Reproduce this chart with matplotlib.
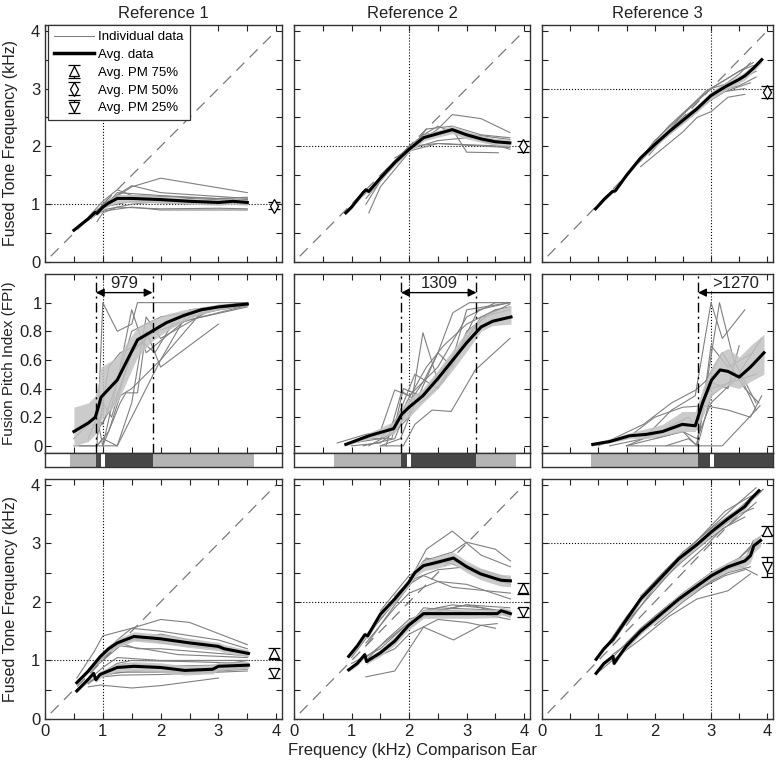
#Recreates the 3x3 fused tone / fusion pitch index figure (three references, three rows)
#%% IMPORTING REQUIRED LIBRARIES
import numpy as np
import matplotlib.pyplot as plt

plt.rcParams['font.family'] = ['Liberation Sans', 'DejaVu Sans']

#%% DATA
refFreqs = [1.0, 2.0, 3.0] #Reference ear frequency (kHz) per column
colTitles = ["Reference 1", "Reference 2", "Reference 3"]

#Row 1: 50% pitch match, column 1
r1c1AvgX = [0.5, 0.75, 0.87, 0.9, 1.0, 1.1, 1.25, 1.5, 2.0, 2.5, 3.0, 3.25, 3.5]
r1c1AvgY = [0.55, 0.75, 0.86, 0.84, 0.95, 1.02, 1.1, 1.1, 1.08, 1.05, 1.03, 1.05, 1.03]
r1c1Band = [0.02, 0.03, 0.04, 0.04, 0.05, 0.06, 0.07, 0.07, 0.06, 0.05, 0.05, 0.05, 0.05]
r1c1Ind = [
    ([0.75, 1.0, 1.5, 2.0, 3.5], [0.72, 0.98, 1.3, 1.45, 1.2]),
    ([0.85, 1.0, 1.5, 2.0, 3.5], [0.8, 1.0, 1.32, 1.2, 1.1]),
    ([0.8, 1.0, 1.25, 2.0, 3.5], [0.75, 0.92, 1.2, 1.15, 1.07]),
    ([0.85, 1.0, 1.5, 2.5, 3.5], [0.85, 0.9, 1.0, 1.1, 1.05]),
    ([0.9, 1.0, 1.25, 2.0, 3.0, 3.5], [0.7, 0.85, 0.95, 0.92, 0.93, 0.92]),
    ([0.85, 1.0, 1.5, 2.0, 3.5], [0.8, 0.88, 0.95, 0.9, 0.9]),
    ([0.5, 0.75, 1.0, 1.25, 2.0, 3.5], [0.55, 0.75, 0.98, 1.1, 1.05, 1.0]),
    ([0.75, 1.0, 1.25, 1.5, 3.5], [0.78, 1.05, 1.25, 1.15, 1.08]),
    ([1.0, 1.5, 2.5, 3.0, 3.5], [0.95, 1.05, 1.0, 1.1, 1.12]),
]

#Row 1, column 2
r1c2AvgX = [0.9, 1.0, 1.2, 1.25, 1.3, 1.5, 1.75, 2.0, 2.25, 2.5, 2.75, 3.0, 3.25, 3.5, 3.75]
r1c2AvgY = [0.85, 0.95, 1.2, 1.25, 1.22, 1.45, 1.72, 1.95, 2.15, 2.22, 2.29, 2.2, 2.13, 2.08, 2.06]
r1c2Band = [0.02, 0.03, 0.04, 0.04, 0.04, 0.04, 0.05, 0.05, 0.06, 0.06, 0.07, 0.07, 0.06, 0.06, 0.06]
r1c2Ind = [
    ([1.2, 1.5, 2.0, 2.5, 2.75, 3.25, 3.75], [1.15, 1.45, 1.95, 2.3, 2.55, 2.48, 2.24]),
    ([1.25, 1.5, 2.0, 2.25, 2.75, 3.0, 3.55], [1.0, 1.4, 1.95, 2.2, 2.3, 1.9, 1.89]),
    ([1.3, 1.5, 2.0, 2.25, 2.5, 2.75, 3.75], [0.85, 1.3, 1.9, 2.2, 2.35, 2.25, 2.12]),
    ([1.0, 1.3, 1.75, 2.0, 2.5, 3.75], [0.95, 1.25, 1.75, 2.0, 2.05, 2.0]),
    ([1.5, 2.0, 2.3, 2.75, 3.25, 3.75], [1.5, 1.9, 2.3, 2.35, 2.2, 2.15]),
    ([1.25, 1.75, 2.0, 2.5, 3.0, 3.75], [1.1, 1.7, 1.92, 2.05, 2.02, 1.98]),
    ([1.75, 2.0, 2.5, 3.0, 3.5, 3.75], [1.8, 1.95, 2.1, 2.15, 2.1, 2.05]),
    ([1.6, 2.0, 2.25, 2.75, 3.25, 3.75], [1.6, 2.0, 2.2, 2.25, 2.1, 1.95]),
]

#Row 1, column 3
r1c3AvgX = [0.95, 1.1, 1.25, 1.3, 1.5, 1.75, 2.0, 2.25, 2.5, 2.75, 3.0, 3.25, 3.5, 3.6, 3.75, 3.9]
r1c3AvgY = [0.92, 1.08, 1.22, 1.23, 1.5, 1.8, 2.03, 2.25, 2.45, 2.65, 2.88, 3.03, 3.16, 3.22, 3.35, 3.5]
r1c3Band = [0.02, 0.02, 0.03, 0.03, 0.03, 0.04, 0.05, 0.05, 0.06, 0.06, 0.07, 0.07, 0.07, 0.07, 0.06, 0.05]
r1c3Ind = [
    ([1.75, 2.0, 2.5, 2.75, 3.0, 3.3, 3.6], [1.65, 1.85, 2.25, 2.5, 2.6, 2.85, 2.9]),
    ([1.7, 2.0, 2.5, 3.0, 3.25, 3.7], [1.7, 2.0, 2.45, 2.8, 2.95, 3.1]),
    ([1.75, 2.25, 2.75, 3.0, 3.5, 3.75], [1.8, 2.35, 2.8, 3.0, 3.3, 3.4]),
    ([1.8, 2.0, 2.5, 3.0, 3.5, 3.8], [1.85, 2.1, 2.55, 3.0, 3.15, 3.3]),
    ([1.5, 2.0, 2.5, 3.0, 3.25, 3.6], [1.5, 2.05, 2.5, 2.85, 2.95, 3.0]),
    ([1.75, 2.25, 2.75, 3.0, 3.5, 3.7], [1.78, 2.2, 2.6, 2.9, 3.25, 3.45]),
    ([2.0, 2.5, 2.9, 3.25, 3.75], [2.0, 2.55, 2.95, 3.15, 3.45]),
    ([1.9, 2.3, 2.75, 3.1, 3.5, 3.8], [1.85, 2.3, 2.65, 2.95, 3.05, 3.2]),
]

#Average pitch match (50%) markers, row 1
pm50X = [3.97, 3.98, 4.0]
pm50Y = [0.97, 2.0, 2.94]
pm50Err = [0.06, 0.1, 0.1]

#Row 2: fusion pitch index, column 1
r2c1AvgX = [0.5, 0.75, 0.87, 0.93, 0.97, 1.25, 1.6, 1.85, 2.1, 2.4, 2.7, 3.0, 3.25, 3.5]
r2c1AvgY = [0.1, 0.16, 0.2, 0.28, 0.34, 0.46, 0.74, 0.8, 0.86, 0.91, 0.95, 0.97, 0.98, 0.99]
r2c1Lo = [0.0, 0.03, 0.08, 0.12, 0.18, 0.3, 0.62, 0.73, 0.8, 0.87, 0.92, 0.95, 0.97, 0.98]
r2c1Hi = [0.27, 0.3, 0.35, 0.45, 0.55, 0.62, 0.83, 0.88, 0.92, 0.95, 0.97, 0.99, 0.99, 1.0]
r2c1Ind = [
    ([0.5, 0.75, 0.9, 1.0, 1.25, 1.5, 2.0, 3.5], [0.05, 0.15, 0.2, 0.0, 0.45, 0.8, 0.9, 1.0]),
    ([0.5, 0.9, 1.0, 1.25, 1.5, 1.6, 2.5, 3.5], [0.0, 0.0, 1.0, 0.8, 0.85, 1.0, 1.0, 1.0]),
    ([0.75, 0.9, 1.0, 1.25, 1.5, 1.75, 2.5, 3.5], [0.05, 0.2, 0.15, 0.45, 0.95, 0.65, 0.9, 1.0]),
    ([0.6, 0.9, 1.1, 1.3, 1.5, 2.0, 2.5, 3.5], [0.0, 0.0, 0.1, 0.35, 0.4, 0.6, 0.95, 1.0]),
    ([0.9, 1.0, 1.25, 1.5, 1.75, 2.0, 3.0, 3.5], [0.0, 0.05, 0.0, 0.3, 0.9, 0.75, 0.98, 1.0]),
    ([0.9, 1.25, 2.0, 2.7, 3.5], [0.0, 0.0, 0.6, 0.93, 0.98]),
    ([0.9, 1.2, 1.5, 1.8, 2.5, 3.5], [0.1, 0.3, 0.65, 0.78, 0.88, 0.97]),
    ([0.9, 1.0, 1.15, 1.5, 2.0, 2.5, 3.0, 3.5], [0.05, 0.3, 0.2, 0.65, 0.85, 0.92, 0.97, 1.0]),
    ([0.95, 1.1, 1.3, 1.7, 1.9, 2.2, 3.5], [0.15, 0.55, 0.65, 0.72, 0.65, 0.85, 0.98]),
    ([1.0, 1.3, 1.4, 1.6, 1.75, 2.0, 2.5, 3.0], [0.0, 0.3, 0.37, 0.37, 0.8, 0.55, 0.7, 0.85]),
]

#Row 2, column 2
r2c2AvgX = [0.9, 1.3, 1.73, 1.87, 2.0, 2.24, 2.5, 2.76, 3.0, 3.25, 3.45, 3.77]
r2c2AvgY = [0.01, 0.07, 0.12, 0.22, 0.27, 0.35, 0.47, 0.6, 0.72, 0.83, 0.87, 0.9]
r2c2Lo = [0.0, 0.05, 0.08, 0.17, 0.2, 0.3, 0.4, 0.53, 0.66, 0.8, 0.84, 0.85]
r2c2Hi = [0.02, 0.09, 0.17, 0.27, 0.33, 0.4, 0.53, 0.67, 0.8, 0.9, 0.94, 0.98]
r2c2Ind = [
    ([0.75, 1.25, 1.5, 1.75, 2.0, 2.5, 3.0, 3.5, 3.75], [0.02, 0.08, 0.1, 0.39, 0.35, 0.55, 0.9, 1.0, 1.0]),
    ([1.0, 1.5, 1.75, 2.0, 2.24, 2.5, 2.75, 3.0, 3.75], [0.0, 0.02, 0.1, 0.2, 0.79, 0.45, 0.6, 0.95, 1.0]),
    ([1.2, 1.75, 2.0, 2.25, 2.5, 2.76, 3.05, 3.75], [0.0, 0.05, 0.3, 0.45, 0.65, 0.93, 1.0, 1.0]),
    ([1.5, 1.9, 2.1, 2.4, 2.73, 3.15, 3.75], [0.0, 0.0, 0.15, 0.25, 0.24, 0.53, 0.75]),
    ([1.25, 1.7, 1.9, 2.2, 2.5, 3.0, 3.25, 3.75], [0.05, 0.05, 0.4, 0.35, 0.5, 0.75, 0.9, 0.95]),
    ([1.5, 1.85, 2.0, 2.5, 2.75, 3.0, 3.5], [0.0, 0.05, 0.2, 0.65, 0.55, 0.8, 0.95]),
    ([1.0, 1.5, 1.8, 2.1, 2.5, 2.9, 3.2, 3.75], [0.02, 0.05, 0.2, 0.5, 0.4, 0.7, 0.95, 1.0]),
    ([1.3, 1.75, 1.95, 2.3, 2.6, 3.0, 3.5, 3.75], [0.0, 0.1, 0.3, 0.55, 0.7, 0.85, 0.95, 0.97]),
    ([1.6, 1.87, 2.2, 2.6, 2.9, 3.3, 3.75], [0.0, 0.38, 0.3, 0.45, 0.7, 0.9, 0.99]),
]

#Row 2, column 3
r2c3AvgX = [0.9, 1.2, 1.55, 1.85, 2.14, 2.49, 2.72, 2.85, 3.01, 3.16, 3.3, 3.5, 3.7, 3.94]
r2c3AvgY = [0.01, 0.03, 0.07, 0.08, 0.1, 0.15, 0.14, 0.3, 0.46, 0.53, 0.52, 0.48, 0.55, 0.65]
r2c3Lo = [0.0, 0.02, 0.05, 0.05, 0.07, 0.1, 0.1, 0.2, 0.35, 0.4, 0.42, 0.4, 0.45, 0.5]
r2c3Hi = [0.02, 0.05, 0.09, 0.12, 0.15, 0.24, 0.24, 0.4, 0.55, 0.65, 0.68, 0.62, 0.7, 0.78]
r2c3Ind = [
    ([1.2, 1.8, 2.3, 2.72, 3.0, 3.2, 3.6], [0.0, 0.05, 0.25, 0.35, 1.0, 0.75, 0.95]),
    ([1.5, 2.0, 2.5, 2.75, 3.15, 3.4, 3.8], [0.0, 0.05, 0.1, 0.0, 1.0, 0.6, 0.3]),
    ([1.0, 1.8, 2.3, 2.73, 2.9, 3.2, 3.6, 3.85], [0.0, 0.15, 0.3, 0.39, 0.45, 0.65, 0.4, 0.3]),
    ([1.5, 2.1, 2.6, 2.8, 3.0, 3.3, 3.75], [0.0, 0.1, 0.2, 0.1, 0.7, 0.55, 0.65]),
    ([0.9, 1.5, 2.0, 2.5, 2.9, 3.3, 3.7, 3.9], [0.0, 0.05, 0.2, 0.27, 0.28, 0.25, 0.2, 0.35]),
    ([2.0, 2.5, 2.75, 3.0, 3.4, 3.9], [0.05, 0.1, 0.05, 0.3, 0.45, 0.75]),
    ([1.5, 2.0, 2.5, 2.74, 2.95, 3.3, 3.5], [0.0, 0.0, 0.0, 0.0, 0.45, 0.4, 0.7]),
    ([2.2, 2.6, 2.76, 3.0, 3.5, 3.8], [0.0, 0.05, 0.0, 0.35, 0.5, 0.25]),
    ([2.75, 3.2, 3.87], [0.0, 0.0, 0.28]),
    ([2.8, 3.0, 3.4, 3.8], [0.3, 0.4, 0.45, 0.5]),
]

#Threshold ranges (kHz) and their widths (Hz) for the FPI row
threshLo = [0.88, 1.86, 2.77]
threshHi = [1.86, 3.17, np.nan]
threshLabels = ["979", "1309", ">1270"]
threshLabelX = [1.37, 2.52, 3.43]

#Colour strip below each FPI panel: (start, end) in kHz
strip1Light = [(0.44, 0.88), (1.86, 3.62)]
strip1Dark = [(0.88, 0.97), (1.03, 1.86)]
strip2Light = [(0.7, 1.86), (3.17, 3.86)]
strip2Dark = [(1.86, 1.97), (2.03, 3.17)]
strip3Light = [(0.87, 2.77)]
strip3Dark = [(2.77, 2.99), (3.06, 4.1)]

#Row 3: 75% (upper) and 25% (lower) pitch matches, column 1
r3c1UpX = [0.55, 0.75, 0.96, 1.1, 1.25, 1.54, 2.0, 2.5, 3.0, 3.1, 3.52]
r3c1UpY = [0.62, 0.82, 1.07, 1.2, 1.3, 1.41, 1.37, 1.3, 1.24, 1.2, 1.12]
r3c1UpBand = [0.03, 0.04, 0.05, 0.06, 0.07, 0.08, 0.08, 0.08, 0.07, 0.07, 0.06]
r3c1LoX = [0.55, 0.75, 0.84, 0.88, 0.95, 1.25, 1.54, 2.0, 2.42, 2.9, 3.0, 3.52]
r3c1LoY = [0.48, 0.68, 0.78, 0.67, 0.76, 0.88, 0.9, 0.88, 0.83, 0.85, 0.9, 0.92]
r3c1LoBand = [0.03, 0.04, 0.05, 0.05, 0.06, 0.07, 0.08, 0.08, 0.08, 0.08, 0.07, 0.06]
r3c1UpInd = [
    ([0.55, 0.85, 1.0, 1.5, 2.0, 2.5, 3.5], [0.7, 1.15, 1.42, 1.55, 1.7, 1.65, 1.27]),
    ([0.75, 1.0, 1.25, 1.5, 2.0, 3.0, 3.5], [0.85, 1.1, 1.35, 1.55, 1.5, 1.35, 1.2]),
    ([0.6, 1.0, 1.25, 1.5, 2.5, 3.5], [0.65, 1.05, 1.25, 1.35, 1.3, 1.15]),
    ([0.75, 1.0, 1.25, 1.5, 2.0, 3.0, 3.5], [0.8, 1.0, 1.3, 1.4, 1.3, 1.2, 1.15]),
    ([0.9, 1.1, 1.3, 1.6, 2.0, 3.5], [0.95, 1.2, 1.3, 1.2, 1.2, 1.08]),
    ([1.0, 1.25, 1.5, 2.0, 3.0, 3.5], [1.05, 1.25, 1.35, 1.45, 1.25, 1.1]),
    ([1.0, 1.3, 1.7, 2.3, 3.5], [1.0, 1.25, 1.2, 1.1, 1.05]),
]
r3c1LoInd = [
    ([0.75, 0.96, 1.5, 2.0, 3.0], [0.55, 0.58, 0.53, 0.57, 0.7]),
    ([0.55, 0.9, 1.25, 2.0, 3.0, 3.5], [0.5, 0.72, 0.8, 0.8, 0.82, 0.85]),
    ([0.75, 1.0, 1.25, 1.5, 2.5, 3.5], [0.6, 0.8, 0.95, 1.0, 0.98, 0.95]),
    ([0.85, 1.0, 1.25, 2.0, 3.5], [0.75, 0.88, 1.05, 1.0, 1.0]),
    ([0.8, 1.0, 1.5, 2.5, 3.5], [0.65, 0.75, 0.82, 0.8, 0.88]),
    ([0.9, 1.1, 1.4, 2.0, 3.0, 3.5], [0.7, 0.85, 0.95, 0.9, 0.92, 1.0]),
    ([1.0, 1.3, 2.0, 3.5], [0.72, 0.75, 0.76, 0.82]),
]

#Row 3, column 2
r3c2UpX = [0.95, 1.1, 1.23, 1.28, 1.5, 1.75, 1.99, 2.1, 2.25, 2.5, 2.77, 3.0, 3.24, 3.53, 3.6, 3.76]
r3c2UpY = [1.07, 1.25, 1.44, 1.42, 1.79, 2.05, 2.33, 2.5, 2.62, 2.68, 2.75, 2.6, 2.48, 2.39, 2.37, 2.36]
r3c2UpBand = [0.03, 0.04, 0.05, 0.05, 0.05, 0.06, 0.07, 0.08, 0.09, 0.1, 0.1, 0.1, 0.1, 0.1, 0.1, 0.1]
r3c2LoX = [0.95, 1.1, 1.23, 1.26, 1.32, 1.5, 1.75, 1.99, 2.25, 2.77, 3.0, 3.53, 3.6, 3.76]
r3c2LoY = [0.84, 0.95, 1.1, 0.98, 1.02, 1.13, 1.33, 1.6, 1.8, 1.8, 1.8, 1.8, 1.85, 1.8]
r3c2LoBand = [0.03, 0.04, 0.05, 0.05, 0.05, 0.06, 0.07, 0.08, 0.08, 0.08, 0.08, 0.07, 0.07, 0.07]
r3c2UpInd = [
    ([1.0, 1.5, 2.0, 2.3, 2.75, 3.25, 3.76], [1.1, 1.75, 2.35, 2.9, 3.21, 2.8, 2.6]),
    ([1.25, 1.75, 2.25, 2.75, 3.0, 3.5, 3.76], [1.4, 2.0, 2.7, 2.85, 3.02, 2.9, 2.7]),
    ([1.25, 1.75, 2.0, 2.5, 3.0, 3.76], [1.3, 1.9, 2.15, 2.35, 2.3, 2.05]),
    ([1.0, 1.5, 2.0, 2.25, 2.75, 3.25, 3.76], [1.05, 1.7, 2.3, 2.45, 2.25, 2.2, 2.15]),
    ([1.5, 2.0, 2.25, 2.75, 3.25, 3.76], [1.85, 2.45, 2.6, 2.7, 2.55, 2.4]),
    ([1.75, 2.0, 2.3, 2.75, 3.25, 3.76], [2.1, 2.35, 2.75, 2.65, 2.45, 2.3]),
    ([1.25, 1.75, 2.1, 2.5, 3.0, 3.5, 3.76], [1.25, 1.95, 2.4, 2.55, 2.6, 2.45, 2.35]),
]
r3c2LoInd = [
    ([1.25, 1.75, 2.25, 2.77, 3.25, 3.53], [0.72, 0.82, 1.57, 1.35, 1.6, 1.63]),
    ([1.0, 1.5, 2.0, 2.5, 3.0, 3.75], [0.95, 1.2, 1.65, 1.85, 1.95, 1.9]),
    ([1.25, 1.75, 2.25, 2.75, 3.25, 3.75], [1.05, 1.45, 1.85, 1.95, 1.9, 1.75]),
    ([1.3, 1.75, 2.0, 2.5, 3.0, 3.5], [1.0, 1.2, 1.45, 1.7, 1.65, 1.55]),
    ([1.5, 2.0, 2.25, 2.75, 3.25, 3.75], [1.15, 1.6, 1.9, 1.85, 1.8, 1.7]),
    ([1.25, 1.6, 2.0, 2.5, 3.0, 3.75], [1.0, 1.35, 1.7, 1.9, 1.88, 1.85]),
    ([1.75, 2.25, 2.75, 3.0, 3.75], [1.35, 1.75, 1.9, 1.95, 1.82]),
]

#Row 3, column 3
r3c3UpX = [0.96, 1.1, 1.26, 1.5, 1.75, 2.0, 2.43, 2.75, 3.01, 3.3, 3.6, 3.7, 3.85]
r3c3UpY = [1.02, 1.2, 1.36, 1.7, 2.05, 2.3, 2.74, 2.98, 3.2, 3.42, 3.63, 3.75, 3.9]
r3c3UpBand = [0.02, 0.03, 0.03, 0.04, 0.05, 0.05, 0.06, 0.06, 0.06, 0.06, 0.06, 0.05, 0.04]
r3c3LoX = [0.96, 1.1, 1.26, 1.28, 1.35, 1.5, 1.75, 2.0, 2.43, 3.01, 3.3, 3.6, 3.7, 3.76, 3.88]
r3c3LoY = [0.78, 0.95, 1.07, 0.95, 1.05, 1.25, 1.5, 1.7, 2.05, 2.45, 2.6, 2.7, 2.79, 2.96, 3.05]
r3c3LoBand = [0.02, 0.03, 0.04, 0.04, 0.04, 0.05, 0.05, 0.06, 0.07, 0.07, 0.08, 0.1, 0.12, 0.12, 0.1]
r3c3UpInd = [
    ([1.0, 1.5, 2.0, 2.5, 3.0, 3.5, 3.85], [1.05, 1.75, 2.35, 2.85, 3.25, 3.6, 3.9]),
    ([1.25, 1.75, 2.25, 2.75, 3.25, 3.75], [1.3, 2.0, 2.55, 2.95, 3.35, 3.8]),
    ([1.5, 2.0, 2.5, 3.0, 3.5, 3.8], [1.6, 2.25, 2.7, 3.1, 3.45, 3.7]),
    ([1.75, 2.25, 2.75, 3.1, 3.5, 3.8], [2.1, 2.6, 3.05, 3.35, 3.7, 3.95]),
    ([1.5, 2.0, 2.5, 3.0, 3.5, 3.75], [1.65, 2.2, 2.75, 3.15, 3.5, 3.6]),
    ([2.0, 2.5, 3.0, 3.25, 3.6, 3.8], [2.25, 2.8, 3.3, 3.55, 3.75, 3.85]),
    ([2.5, 2.9, 3.2, 3.6], [2.6, 2.95, 3.25, 3.45]),
]
r3c3LoInd = [
    ([1.0, 1.25, 1.75, 2.25, 2.75, 3.3, 3.7], [0.8, 1.0, 1.36, 1.75, 2.05, 2.19, 2.48]),
    ([1.25, 1.75, 2.25, 2.75, 3.25, 3.5, 3.82], [1.05, 1.55, 1.95, 2.3, 2.55, 2.62, 2.46]),
    ([1.5, 2.0, 2.5, 3.0, 3.5, 3.8], [1.3, 1.75, 2.15, 2.5, 2.75, 3.0]),
    ([1.75, 2.25, 2.75, 3.25, 3.6, 3.75], [1.5, 1.9, 2.25, 2.55, 2.7, 3.05]),
    ([1.25, 1.75, 2.25, 2.75, 3.25, 3.6], [1.1, 1.45, 1.9, 2.2, 2.45, 2.55]),
    ([2.0, 2.5, 3.0, 3.3, 3.7], [1.6, 2.0, 2.35, 2.5, 2.6]),
    ([1.5, 2.0, 2.5, 3.0, 3.4, 3.85], [1.2, 1.7, 2.1, 2.35, 2.65, 3.1]),
]

#Average pitch match markers, row 3 (75% upper, 25% lower)
pm75X = [3.97, 3.98, 4.0]
pm75Y = [1.12, 2.23, 3.22]
pm75Err = [0.09, 0.1, 0.08]
pm25X = [3.97, 3.98, 4.0]
pm25Y = [0.78, 1.82, 2.59]
pm25Err = [0.08, 0.07, 0.17]

#%% STYLE
W, H = 780, 761
colLeft = [45, 294, 542]
colRight = [282, 530, 773]
indColor = '#808080'
bandColor = '#c2c2c2'
lightStrip = '#b4b4b4'
darkStrip = '#474747'
textColor = '#222222'
yLabelX = -0.113 #Shared x position (axes fraction) of the left-hand y labels

def pxBox(x0, x1, y0, y1): #Converts pixel box (top-left origin) to figure fraction rect
    return [x0/W, 1 - y1/H, (x1 - x0)/W, (y1 - y0)/H]

def styleSpines(ax):
    for s in ax.spines.values():
        s.set_linewidth(1.0)
        s.set_color('#333333')

def styleFreqAxes(ax, showX, showY):
    ax.set_xlim(0, 4.1)
    ax.set_ylim(0, 4.1)
    ticks = np.arange(0, 4.01, 0.5)
    labels = [str(int(t)) if t == int(t) else '' for t in ticks]
    ax.set_xticks(ticks)
    ax.set_yticks(ticks)
    ax.set_xticklabels(labels if showX else [])
    ax.set_yticklabels(labels if showY else [])
    ax.tick_params(direction='in', top=True, right=True, length=4, width=0.8, labelsize=12, colors=textColor)
    styleSpines(ax)

def drawRefLines(ax, ref):
    ax.plot([0.1, 4.0], [0.1, 4.0], color='#7a7a7a', lw=0.9, dashes=(9, 6), zorder=1)
    ax.axvline(ref, color='k', lw=0.8, ls=':', zorder=1)
    ax.axhline(ref, color='k', lw=0.8, ls=':', zorder=1)

def drawGroup(ax, ind, avgX, avgY, band):
    for xs, ys in ind:
        ax.plot(xs, ys, color=indColor, lw=0.8, zorder=2)
    avgX = np.array(avgX); avgY = np.array(avgY); band = np.array(band)
    ax.fill_between(avgX, avgY - band, avgY + band, color=bandColor, lw=0, alpha=0.85, zorder=3)
    ax.plot(avgX, avgY, color='k', lw=2.2, zorder=4)

def drawPM(ax, x, y, err, marker, label=None):
    return ax.errorbar(x, y, yerr=err, fmt=marker, ms=7, mfc='white', mec='k', mew=0.9,
                       ecolor='k', elinewidth=0.9, capsize=4, capthick=0.9, zorder=5, label=label)

#%% FIGURE
fig = plt.figure(figsize=(W/100, H/100), dpi=100)

#Row 1
row1Data = [(r1c1Ind, r1c1AvgX, r1c1AvgY, r1c1Band), (r1c2Ind, r1c2AvgX, r1c2AvgY, r1c2Band),
            (r1c3Ind, r1c3AvgX, r1c3AvgY, r1c3Band)]
for c in range(3):
    ax = fig.add_axes(pxBox(colLeft[c], colRight[c], 25, 262))
    styleFreqAxes(ax, False, c == 0)
    drawRefLines(ax, refFreqs[c])
    drawGroup(ax, *row1Data[c])
    drawPM(ax, [pm50X[c]], [pm50Y[c]], [pm50Err[c]], 'd')
    ax.set_title(colTitles[c], fontsize=12, pad=5, color=textColor)
    if c == 0:
        ax.set_ylabel("Fused Tone Frequency (kHz)", fontsize=11.5, color=textColor)
        ax.yaxis.set_label_coords(yLabelX, 0.5)
        hInd, = ax.plot([], [], color=indColor, lw=0.8, label="Individual data")
        hAvg, = ax.plot([], [], color='k', lw=2.5, label="Avg. data")
        h75 = drawPM(ax, [np.nan], [np.nan], [0.1], '^', "Avg. PM 75%")
        h50 = drawPM(ax, [np.nan], [np.nan], [0.1], 'd', "Avg. PM 50%")
        h25 = drawPM(ax, [np.nan], [np.nan], [0.1], 'v', "Avg. PM 25%")
        leg = ax.legend(handles=[hInd, hAvg, h75, h50, h25], loc='upper left', fontsize=9.5,
                        frameon=True, fancybox=False, framealpha=1, edgecolor='#333333',
                        borderaxespad=0.0, handlelength=3.0, handletextpad=0.35,
                        labelspacing=0.42, borderpad=0.45, bbox_to_anchor=(0.013, 1.0))
        leg.get_frame().set_linewidth(0.9)
        leg.set_zorder(10)

#Row 2
row2Data = [(r2c1Ind, r2c1AvgX, r2c1AvgY, r2c1Lo, r2c1Hi), (r2c2Ind, r2c2AvgX, r2c2AvgY, r2c2Lo, r2c2Hi),
            (r2c3Ind, r2c3AvgX, r2c3AvgY, r2c3Lo, r2c3Hi)]
stripLight = [strip1Light, strip2Light, strip3Light]
stripDark = [strip1Dark, strip2Dark, strip3Dark]
for c in range(3):
    ax = fig.add_axes(pxBox(colLeft[c], colRight[c], 274, 453))
    ax.set_xlim(0, 4.1)
    ax.set_ylim(-0.05, 1.2)
    ax.set_xticks(np.arange(0, 4.01, 0.5))
    ax.set_xticklabels([])
    ax.set_yticks([0, 0.2, 0.4, 0.6, 0.8, 1.0])
    ax.set_yticklabels(['0', '0.2', '0.4', '0.6', '0.8', '1'] if c == 0 else [])
    ax.tick_params(direction='in', top=True, right=True, length=4, width=0.8, labelsize=12, colors=textColor)
    ax.tick_params(axis='y', pad=2)
    styleSpines(ax)
    ind, avx, avy, lo, hi = row2Data[c]
    for xs, ys in ind:
        ax.plot(xs, ys, color=indColor, lw=0.8, zorder=2)
    ax.fill_between(avx, lo, hi, color=bandColor, lw=0, alpha=0.85, zorder=3)
    ax.plot(avx, avy, color='k', lw=2.2, zorder=4)
    ax.axvline(refFreqs[c], color='k', lw=0.8, ls=':', zorder=1)
    #Threshold markers
    ax.axvline(threshLo[c], color='k', lw=1.0, ls=(0, (7, 3, 1.5, 3)), zorder=5)
    if np.isnan(threshHi[c]):
        ax.annotate('', xy=(threshLo[c], 1.07), xytext=(4.1, 1.07),
                    arrowprops=dict(arrowstyle='-|>', color='k', lw=1.0, shrinkA=0, shrinkB=0, mutation_scale=12))
    else:
        ax.axvline(threshHi[c], color='k', lw=1.0, ls=(0, (7, 3, 1.5, 3)), zorder=5)
        ax.annotate('', xy=(threshHi[c], 1.07), xytext=(threshLo[c], 1.07),
                    arrowprops=dict(arrowstyle='<|-|>', color='k', lw=1.0, shrinkA=0, shrinkB=0, mutation_scale=12))
    ax.text(threshLabelX[c], 1.135, threshLabels[c], ha='center', va='center', fontsize=12, color=textColor,
            bbox=dict(facecolor='white', edgecolor='none', pad=0.5))
    if c == 0:
        ax.set_ylabel("Fusion Pitch Index (FPI)", fontsize=11, color=textColor)
        ax.yaxis.set_label_coords(yLabelX - 0.01, 0.5)
    #Colour strip
    sx = fig.add_axes(pxBox(colLeft[c], colRight[c], 453, 467))
    sx.set_xlim(0, 4.1); sx.set_ylim(0, 1)
    sx.set_xticks([]); sx.set_yticks([])
    styleSpines(sx)
    for a, b in stripLight[c]:
        sx.axvspan(a, b, color=lightStrip, lw=0)
    for a, b in stripDark[c]:
        sx.axvspan(a, b, color=darkStrip, lw=0)

#Row 3
row3Data = [
    ((r3c1UpInd, r3c1UpX, r3c1UpY, r3c1UpBand), (r3c1LoInd, r3c1LoX, r3c1LoY, r3c1LoBand)),
    ((r3c2UpInd, r3c2UpX, r3c2UpY, r3c2UpBand), (r3c2LoInd, r3c2LoX, r3c2LoY, r3c2LoBand)),
    ((r3c3UpInd, r3c3UpX, r3c3UpY, r3c3UpBand), (r3c3LoInd, r3c3LoX, r3c3LoY, r3c3LoBand)),
]
for c in range(3):
    ax = fig.add_axes(pxBox(colLeft[c], colRight[c], 479, 719))
    styleFreqAxes(ax, True, c == 0)
    drawRefLines(ax, refFreqs[c])
    for grp in row3Data[c]:
        drawGroup(ax, *grp)
    drawPM(ax, [pm75X[c]], [pm75Y[c]], [pm75Err[c]], '^')
    drawPM(ax, [pm25X[c]], [pm25Y[c]], [pm25Err[c]], 'v')
    if c == 0:
        ax.set_ylabel("Fused Tone Frequency (kHz)", fontsize=11.5, color=textColor)
        ax.yaxis.set_label_coords(yLabelX, 0.5)
    if c == 1:
        ax.set_xlabel("Frequency (kHz) Comparison Ear", fontsize=12, color=textColor, labelpad=3)

fig.savefig("out.png", dpi=100)
